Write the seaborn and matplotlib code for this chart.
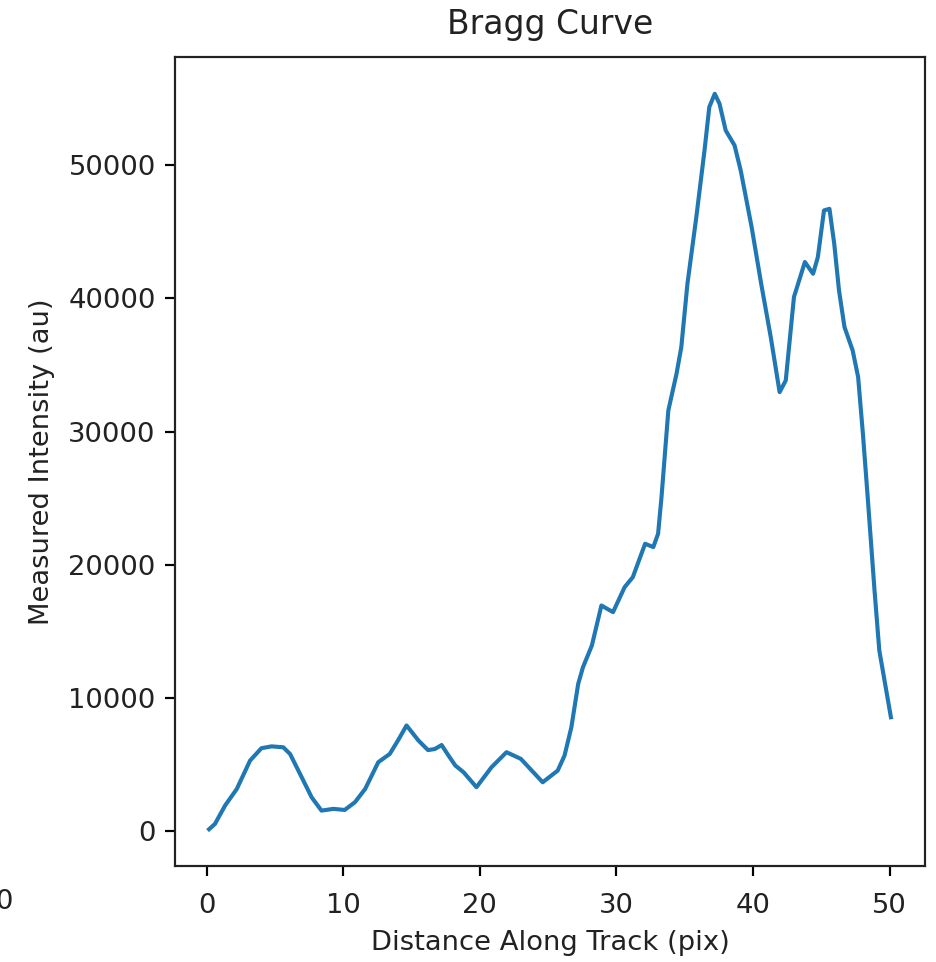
import matplotlib
matplotlib.use("Agg")
import matplotlib.pyplot as plt
import seaborn as sns
import pandas as pd

# Distance along track (pix) and measured intensity (au)
distance = [0.17, 0.6, 1.34, 2.2, 3.17, 4.0, 4.75, 5.6, 6.1, 6.95, 7.68, 8.4, 9.27, 10.1,
            10.85, 11.6, 12.56, 13.4, 14.0, 14.63, 15.5, 16.2, 16.7, 17.2, 17.7, 18.2,
            18.8, 19.75, 20.85, 21.95, 23.0, 23.8, 24.6, 25.7, 26.2, 26.7, 27.2, 27.55,
            28.2, 28.9, 29.75, 30.6, 31.2, 32.1, 32.7, 33.05, 33.3, 33.8, 34.4, 34.75,
            35.2, 35.85, 36.45, 36.8, 37.2, 37.55, 38.0, 38.65, 39.1, 39.9, 40.6, 41.3,
            41.95, 42.4, 43.0, 43.8, 44.4, 44.75, 45.2, 45.6, 45.95, 46.3, 46.7, 47.3,
            47.7, 48.05, 48.4, 48.9, 49.25, 50.1]
intensity = [100, 500, 1880, 3130, 5260, 6190, 6330, 6260, 5760, 4010, 2500, 1500, 1630, 1550,
             2130, 3130, 5140, 5760, 6770, 7900, 6770, 6050, 6130, 6430, 5640, 4890,
             4390, 3260, 4760, 5890, 5390, 4510, 3630, 4510, 5640, 7770, 11030, 12280,
             13910, 16920, 16420, 18300, 19050, 21560, 21310, 22310, 25060, 31580, 34340, 36340,
             41110, 46120, 51130, 54390, 55390, 54640, 52640, 51510, 49630, 45370, 41110, 37100,
             32960, 33840, 40110, 42740, 41860, 43110, 46620, 46740, 44110, 40600, 37850, 36090,
             34090, 29820, 25060, 18050, 13540, 8520]

title = "Bragg Curve"
xlabel = "Distance Along Track (pix)"
ylabel = "Measured Intensity (au)"

df = pd.DataFrame({"distance": distance, "intensity": intensity})

DPI = 197
plt.rcParams["text.color"] = "#222222"
plt.rcParams["axes.labelcolor"] = "#222222"
plt.rcParams["xtick.labelcolor"] = "#222222"
plt.rcParams["ytick.labelcolor"] = "#222222"
plt.rcParams["axes.edgecolor"] = "#222222"

fig = plt.figure(figsize=(936 / DPI, 962 / DPI), dpi=DPI)
ax = fig.add_axes([175 / 936, 1 - 866 / 962, 750 / 936, 809 / 962])
sns.lineplot(data=df, x="distance", y="intensity", ax=ax, color="#1f77b4", linewidth=1.5)
ax.set_title(title, pad=8.5)
ax.set_xlabel(xlabel, labelpad=4)
ax.set_ylabel(ylabel, labelpad=5)
ax.set_xticks([0, 10, 20, 30, 40, 50])
ax.set_yticks([0, 10000, 20000, 30000, 40000, 50000])
ax.tick_params(axis="x", pad=6.5)

# stray tick label from a neighbouring (cropped) panel, as in the reference
fig.text(4 / 936, 1 - 902 / 962, "0", ha="center", va="center", fontsize=10)

fig.savefig("out.png", dpi=DPI)
